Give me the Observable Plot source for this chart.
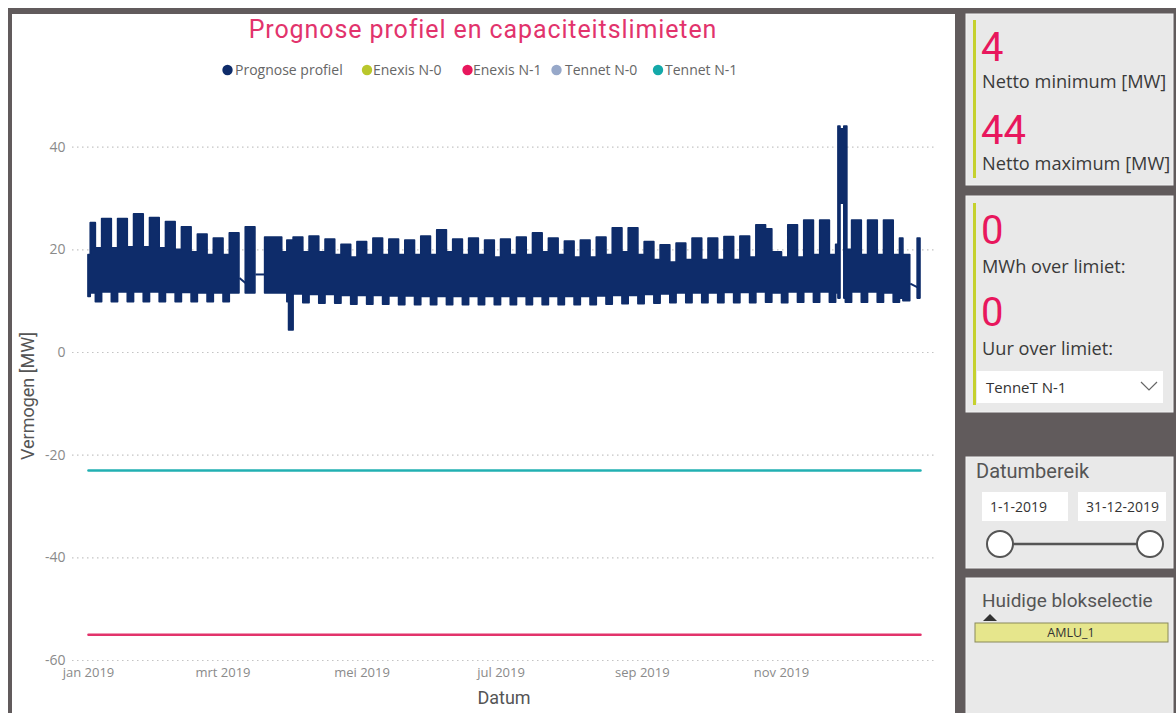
<!DOCTYPE html>
<html><head><meta charset="utf-8">
<script src="https://cdn.jsdelivr.net/npm/d3@7"></script>
<script src="https://cdn.jsdelivr.net/npm/@observablehq/plot@0.6"></script>
<style>
html,body{margin:0;padding:0;background:#fff;}
#page{position:relative;width:1176px;height:713px;overflow:hidden;background:#fff;}
#frame{position:absolute;left:8px;top:8px;width:1168px;height:705px;background:#615b5c;}
#main{position:absolute;left:12px;top:14px;width:943px;height:699px;background:#fff;}
#chart{position:absolute;left:12px;top:90px;width:943px;height:623px;}
#overlay{position:absolute;left:0;top:0;}
</style></head><body>
<div id="page">
  <div id="frame"></div>
  <div id="main"></div>
  <div id="chart"></div>
  <svg id="overlay" width="1176" height="713" xmlns="http://www.w3.org/2000/svg"></svg>
</div>
<script>
// ---------------- data ----------------
// Weekly profile (weeks starting on Monday, first = 2018-12-31), values in MW
const weekdayHigh = [null, 26.0, 26.0, 26.9, 26.2, 25.4, 24.4, 23.0, 22.2, 23.2,
  24.4, null, 19.5, 22.4, 22.6, 22.0, 21.0, 21.5, 22.2, 22.0,
  21.8, 22.6, 23.8, 22.0, 22.2, 21.8, 22.0, 22.4, 23.2, 22.2,
  21.6, 21.8, 22.4, 24.2, 24.2, 21.5, 20.9, 21.2, 22.2, 22.2,
  22.5, 22.6, 24.8, 19.5, 24.8, 25.7, 25.7, null, 25.7, 25.7,
  25.7, null];
const weekendHigh = [20.3, 20.3, 20.5, 20.5, 20.3, 20.0, 19.5, 19.0, 19.0, null,
  null, null, 21.8, 19.5, 19.5, 19.0, 18.5, 19.0, 19.0, 19.0,
  19.0, 19.0, 19.5, 19.0, 19.0, 18.5, 19.0, 19.0, 19.5, 19.0,
  18.5, 18.5, 19.0, 19.5, 19.0, 18.0, 17.5, 18.0, 18.0, 18.0,
  18.0, 18.5, 24.0, 18.5, 18.5, 19.0, 19.0, 20.0, 19.0, 19.0,
  19.0, null];
const weekdayLow = [11.5, 11.7, 11.7, 11.7, 11.7, 11.6, 11.6, 11.5, 11.5, 11.5,
  11.5, 11.5, 11.5, 11.3, 11.2, 11.2, 11.0, 11.0, 11.0, 10.9,
  10.9, 10.8, 10.8, 10.8, 10.8, 10.8, 10.8, 10.8, 10.8, 10.8,
  10.8, 10.8, 10.9, 11.0, 11.0, 11.2, 11.3, 11.5, 11.5, 11.5,
  11.6, 11.6, 11.7, 11.5, 11.7, 11.7, 11.7, 11.7, 11.7, 11.7,
  11.5, 11.0];
const weekendLow = [9.8, 9.8, 9.8, 9.8, 9.8, 9.8, 9.8, 9.8, 9.8, 9.8,
  9.8, 9.8, 9.8, 9.6, 9.5, 9.5, 9.3, 9.3, 9.3, 9.2,
  9.2, 9.2, 9.2, 9.2, 9.2, 9.2, 9.2, 9.2, 9.2, 9.2,
  9.2, 9.2, 9.3, 9.4, 9.4, 9.5, 9.6, 9.6, 9.6, 9.6,
  9.6, 9.6, 9.7, 9.6, 9.7, 9.7, 9.7, 9.7, 9.7, 9.7,
  9.7, 9.7];

// Irregular periods (holidays, dip, spike)
const eventStart = ["2019-01-01T00:00Z", "2019-01-02T00:00Z", "2019-03-19T12:00Z", "2019-03-30T00:00Z",
  "2019-11-25T00:00Z", "2019-11-26T00:00Z", "2019-11-26T22:00Z", "2019-11-28T14:00Z",
  "2019-12-23T00:00Z", "2019-12-24T12:00Z", "2019-12-30T18:00Z"];
const eventEnd = ["2019-01-02T00:00Z", "2019-01-04T06:00Z", "2019-03-27T00:00Z", "2019-04-01T00:00Z",
  "2019-11-26T00:00Z", "2019-11-26T22:00Z", "2019-11-28T14:00Z", "2019-11-29T22:00Z",
  "2019-12-24T12:00Z", "2019-12-27T12:00Z", "2020-01-01T00:00Z"];
const eventLow = [10.8, 11.5, 11.5, 4.3, 11.5, 10.5, 29.0, 10.5, 10.5, 10.0, 10.5];
const eventHigh = [19.0, 25.2, 22.4, 12.0, 21.0, 44.0, 43.5, 44.0, 22.2, 19.0, 22.2];

// Missing data, drawn as connecting lines
const gapFrom = ["2019-03-08T06:00Z", "2019-03-15T06:00Z", "2019-12-27T12:00Z"];
const gapFromValue = [14.5, 15.2, 13.4];
const gapTo = ["2019-03-11T00:00Z", "2019-03-19T12:00Z", "2019-12-30T18:00Z"];
const gapToValue = [13.5, 15.2, 12.7];

// Capacity limits
const limitDates = ["2019-01-01T00:00Z", "2020-01-01T00:00Z"];
const enexisN1 = [-55, -55];
const tennetN1 = [-23, -23];

// Axes
const yTicks = [40, 20, 0, -20, -40, -60];
const xTickDates = ["2019-01-01T00:00Z", "2019-03-01T00:00Z", "2019-05-01T00:00Z", "2019-07-01T00:00Z", "2019-09-01T00:00Z", "2019-11-01T00:00Z"];
const xTickLabels = ["jan 2019", "mrt 2019", "mei 2019", "jul 2019", "sep 2019", "nov 2019"];

// Legend
const legendNames = ["Prognose profiel", "Enexis N-0", "Enexis N-1", "Tennet N-0", "Tennet N-1"];
const legendColors = ["#0e2c6a", "#b9c72c", "#e8175d", "#97a8c9", "#14a9a9"];

// KPI panel
const kpiValues = ["4", "44", "0", "0"];
const kpiLabels = ["Netto minimum [MW]", "Netto maximum [MW]", "MWh over limiet:", "Uur over limiet:"];

// ---------------- build tables ----------------
const navy = legendColors[0];
const weekStarts = d3.utcMonday.range(new Date(Date.UTC(2018, 11, 31)), new Date(Date.UTC(2019, 11, 24)));
const blocks = [];
weekStarts.forEach((mon, k) => {
  const split = d3.utcHour.offset(mon, 4 * 24 + 6);
  const next = d3.utcDay.offset(mon, 7);
  if (weekdayHigh[k] != null) blocks.push({x1: +mon, x2: +split, lo: weekdayLow[k], hi: weekdayHigh[k]});
  if (weekendHigh[k] != null) blocks.push({x1: +split, x2: +next, lo: weekendLow[k], hi: weekendHigh[k]});
});
eventStart.forEach((s, i) => blocks.push({x1: +new Date(s), x2: +new Date(eventEnd[i]), lo: eventLow[i], hi: eventHigh[i]}));

// envelope of all blocks as a step series (breaks where no data)
const bounds = Array.from(new Set(blocks.flatMap(b => [b.x1, b.x2]))).sort((a, b) => a - b);
const steps = [];
let prev = null;
for (let i = 0; i < bounds.length - 1; i++) {
  const a = bounds[i], b = bounds[i + 1];
  const cover = blocks.filter(bl => bl.x1 <= a && bl.x2 >= b);
  if (cover.length === 0) {
    if (prev) { steps.push({x: new Date(a), lo: prev.lo, hi: prev.hi}); steps.push({x: new Date(a), lo: null, hi: null}); }
    prev = null;
    continue;
  }
  const cur = {lo: d3.min(cover, c => c.lo), hi: d3.max(cover, c => c.hi)};
  steps.push({x: new Date(a), lo: cur.lo, hi: cur.hi});
  prev = cur;
}
if (prev) steps.push({x: new Date(bounds[bounds.length - 1]), lo: prev.lo, hi: prev.hi});

const links = gapFrom.map((s, i) => ({x1: new Date(s), y1: gapFromValue[i], x2: new Date(gapTo[i]), y2: gapToValue[i]}));
const limits = [];
limitDates.forEach((d, i) => {
  limits.push({date: new Date(d), value: enexisN1[i], series: "Enexis N-1"});
  limits.push({date: new Date(d), value: tennetN1[i], series: "Tennet N-1"});
});
const xTicks = xTickDates.map(d => new Date(d));

const chart = Plot.plot({
  width: 943, height: 623,
  marginLeft: 60, marginRight: 20, marginTop: 31, marginBottom: 53,
  style: {fontFamily: "'Open Sans', sans-serif", fontSize: "13px", color: "#8a8a8a", background: "transparent", overflow: "visible"},
  x: {type: "utc", domain: [new Date(Date.UTC(2018, 11, 25)), new Date(Date.UTC(2020, 0, 7, 14))]},
  y: {domain: [-60, 45]},
  marks: [
    Plot.ruleY(yTicks, {stroke: "#c4c4c4", strokeDasharray: "1.5,3.5", strokeWidth: 1.2}),
    Plot.axisY({ticks: yTicks, tickSize: 0, tickPadding: 7, label: null, fontSize: 14, tickFormat: d => String(d)}),
    Plot.axisX({ticks: xTicks, tickSize: 0, tickPadding: 7, label: null,
      tickFormat: d => xTickLabels[xTicks.findIndex(t => +t === +d)]}),
    Plot.areaY(steps, {x: "x", y1: "lo", y2: "hi", curve: "step-after", fill: navy, stroke: navy, strokeWidth: 1.6}),
    Plot.link(links, {x1: "x1", y1: "y1", x2: "x2", y2: "y2", stroke: navy, strokeWidth: 2}),
    Plot.line(limits, {x: "date", y: "value", z: "series", stroke: d => d.series === "Enexis N-1" ? "#e2336b" : "#22b0b2", strokeWidth: 2.5})
  ]
});
document.getElementById("chart").appendChild(chart);

// ---------------- overlay: title, legend, axis titles, side panels ----------------
const svg = d3.select("#overlay");
svg.append("text").attr("x", 483).attr("y", 38).attr("text-anchor", "middle")
  .attr("font-family", "Roboto, sans-serif").attr("font-size", 25).attr("letter-spacing", 0.9).attr("fill", "#e2336c")
  .text("Prognose profiel en capaciteitslimieten");

const legendDotX = [227.5, 367, 467.5, 556.5, 658];
const legendTextX = [235, 373, 473, 565, 665];
legendNames.forEach((n, i) => {
  svg.append("circle").attr("cx", legendDotX[i]).attr("cy", 70).attr("r", 5.2).attr("fill", legendColors[i]);
  svg.append("text").attr("x", legendTextX[i]).attr("y", 75).attr("font-family", "'Open Sans', sans-serif")
    .attr("font-size", 14).attr("fill", "#666").text(n);
});

svg.append("text").attr("transform", "translate(34,396) rotate(-90)").attr("text-anchor", "middle")
  .attr("font-family", "Roboto, sans-serif").attr("font-size", 18).attr("fill", "#555").text("Vermogen [MW]");
svg.append("text").attr("x", 504).attr("y", 704).attr("text-anchor", "middle")
  .attr("font-family", "Roboto, sans-serif").attr("font-size", 18).attr("fill", "#555").text("Datum");

// panels
const panels = [[966, 14, 207, 171], [966, 196, 207, 216], [966, 457, 207, 111], [966, 578, 207, 140]];
panels.forEach(p => svg.append("rect").attr("x", p[0]).attr("y", p[1]).attr("width", p[2]).attr("height", p[3])
  .attr("fill", "#e9e9e9").attr("stroke", "#f3f3f3").attr("stroke-width", 1));
svg.append("rect").attr("x", 973).attr("y", 20).attr("width", 3).attr("height", 158).attr("fill", "#c5d12e");
svg.append("rect").attr("x", 973).attr("y", 203).attr("width", 3).attr("height", 202).attr("fill", "#c5d12e");

const kpiValueY = [61, 144, 244, 326];
const kpiLabelY = [88, 170, 273, 355];
kpiValues.forEach((v, i) => {
  svg.append("text").attr("x", 981).attr("y", kpiValueY[i]).attr("font-family", "Roboto, sans-serif")
    .attr("font-size", 40).attr("fill", "#e8175d").text(v);
  svg.append("text").attr("x", 982).attr("y", kpiLabelY[i]).attr("font-family", "'Open Sans', sans-serif")
    .attr("font-size", 18.2).attr("fill", "#3a3a3a").text(kpiLabels[i]);
});
// dropdown
svg.append("rect").attr("x", 977).attr("y", 371).attr("width", 186).attr("height", 32).attr("fill", "#fff");
svg.append("text").attr("x", 986).attr("y", 393).attr("font-family", "'Open Sans', sans-serif")
  .attr("font-size", 15).attr("fill", "#333").text("TenneT N-1");
svg.append("polyline").attr("points", "1141,382 1149,390 1157,382").attr("fill", "none").attr("stroke", "#666").attr("stroke-width", 1.2);

// date range slicer
svg.append("text").attr("x", 976).attr("y", 478).attr("font-family", "Roboto, sans-serif")
  .attr("font-size", 20).attr("fill", "#555").text("Datumbereik");
svg.append("rect").attr("x", 982).attr("y", 492).attr("width", 86).attr("height", 29).attr("fill", "#fff");
svg.append("rect").attr("x", 1078).attr("y", 492).attr("width", 88).attr("height", 29).attr("fill", "#fff");
svg.append("text").attr("x", 990).attr("y", 512).attr("font-family", "'Open Sans', sans-serif")
  .attr("font-size", 14).attr("fill", "#333").text("1-1-2019");
svg.append("text").attr("x", 1086).attr("y", 512).attr("font-family", "'Open Sans', sans-serif")
  .attr("font-size", 14).attr("fill", "#333").text("31-12-2019");
svg.append("line").attr("x1", 1000).attr("x2", 1150).attr("y1", 544).attr("y2", 544).attr("stroke", "#555").attr("stroke-width", 2.5);
[1000, 1150].forEach(cx => svg.append("circle").attr("cx", cx).attr("cy", 544).attr("r", 13)
  .attr("fill", "#fff").attr("stroke", "#555").attr("stroke-width", 2));

// block selection
svg.append("text").attr("x", 982).attr("y", 607).attr("font-family", "Roboto, sans-serif")
  .attr("font-size", 19).attr("fill", "#555").text("Huidige blokselectie");
svg.append("polygon").attr("points", "983,621 990,614 997,621").attr("fill", "#333");
svg.append("rect").attr("x", 975).attr("y", 623).attr("width", 193).attr("height", 19)
  .attr("fill", "#e6e68c").attr("stroke", "#8a8a5a").attr("stroke-width", 1);
svg.append("text").attr("x", 1071).attr("y", 637).attr("text-anchor", "middle").attr("font-family", "'Open Sans', sans-serif")
  .attr("font-size", 12.5).attr("fill", "#333").text("AMLU_1");
</script>
</body></html>
